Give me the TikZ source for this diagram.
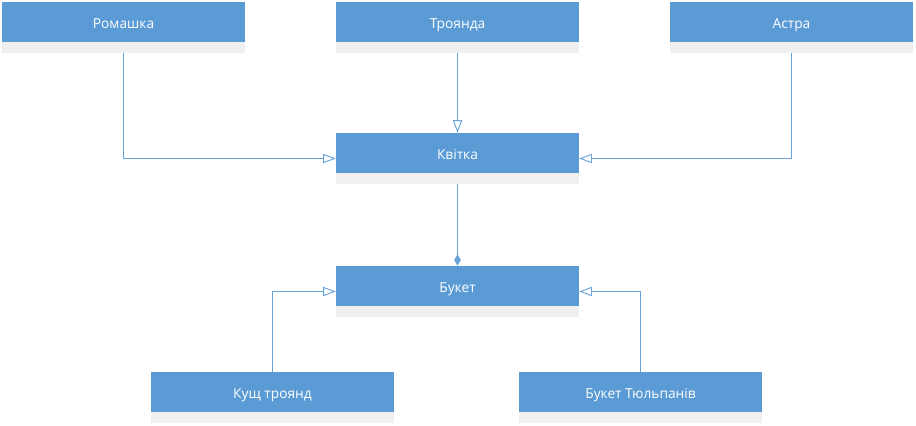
\documentclass[tikz,border=0pt]{standalone}
\usepackage{fontspec}
\setmainfont{Open Sans}
\usetikzlibrary{arrows.meta}
\definecolor{boxblue}{HTML}{5B9BD5}
\definecolor{stripgray}{HTML}{F0F0F0}
\definecolor{lineblue}{HTML}{6AA3D8}
\tikzset{
  cls/.style={rectangle, inner sep=0pt, minimum width=182.25pt, minimum height=38.25pt,
    fill=stripgray, text=white, font=\fontsize{10.3pt}{12pt}\selectfont,
    text height=8pt, text depth=7.25pt,
    path picture={\fill[boxblue] (path picture bounding box.north west) rectangle ([yshift=8.25pt]path picture bounding box.south east);}},
  gen/.style={draw=lineblue, line width=0.7pt, -{Triangle[open, length=9.5pt, width=7pt, line width=0.7pt]}},
  comp/.style={draw=lineblue, line width=0.7pt, -{Diamond[length=8.5pt, width=5pt, fill=lineblue]}}
}
\begin{document}
\begin{tikzpicture}[x=0.75pt, y=-0.75pt]
\useasboundingbox (0,0) rectangle (916,425);
\node[cls] (rom) at (123.5,27.5) {Ромашка};
\node[cls] (tro) at (457.5,27.5) {Троянда};
\node[cls] (ast) at (791.5,27.5) {Астра};
\node[cls] (kv) at (457.5,158.5) {Квітка};
\node[cls] (buk) at (457.5,291.5) {Букет};
\node[cls] (kush) at (272.5,397.5) {Кущ троянд};
\node[cls] (tul) at (640.5,397.5) {Букет Тюльпанів};
\draw[gen] (rom.south) |- (kv.west);
\draw[gen] (tro.south) -- (kv.north);
\draw[gen] (ast.south) |- (kv.east);
\draw[comp] (kv.south) -- (buk.north);
\draw[gen] (kush.north) |- (buk.west);
\draw[gen] (tul.north) |- (buk.east);
\end{tikzpicture}
\end{document}
